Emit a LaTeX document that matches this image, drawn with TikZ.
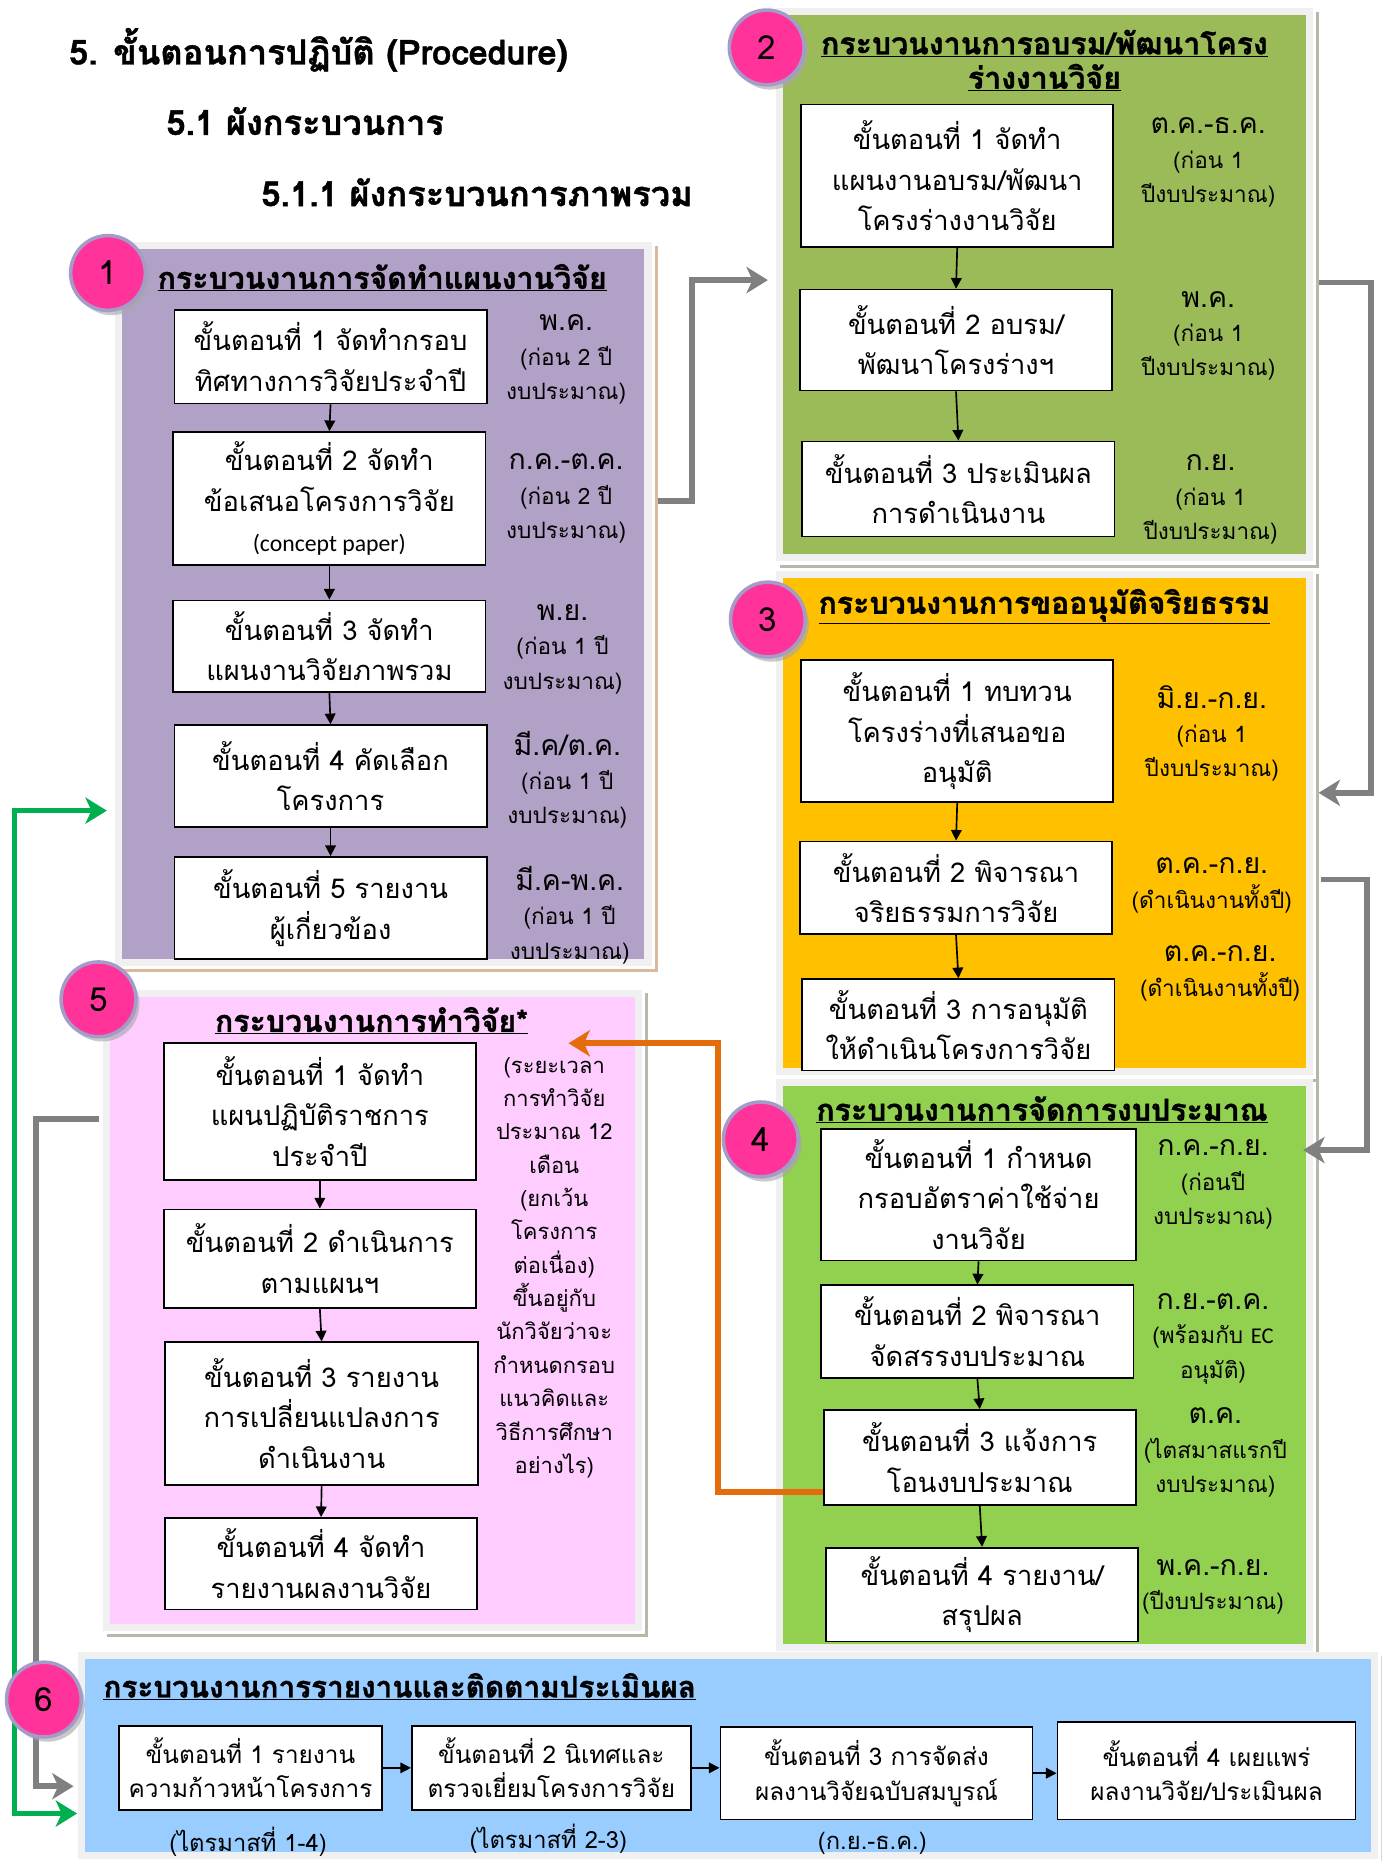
\documentclass[tikz,border=0pt]{standalone}
\usepackage{fontspec}
\setmainfont[Script=Thai]{Loma}
\newfontfamily\headf[Script=Thai,BoldFeatures={FakeBold=1.2}]{Loma}
\newfontfamily\latinf{Carlito}
\usetikzlibrary{arrows.meta,calc,shadows}

\definecolor{purp}{HTML}{B2A1C7}
\definecolor{grnA}{HTML}{9BBB59}
\definecolor{orng}{HTML}{FFC000}
\definecolor{grnB}{HTML}{92D050}
\definecolor{pinkp}{HTML}{FFCCFF}
\definecolor{bluep}{HTML}{99CCFF}
\definecolor{hotpink}{HTML}{FF3399}
\definecolor{lavb}{HTML}{A59BC9}
\definecolor{connG}{HTML}{808080}
\definecolor{connO}{HTML}{E46C0A}
\definecolor{connGr}{HTML}{00B050}
\definecolor{frameg}{HTML}{F0F0F0}
\definecolor{tanS}{HTML}{D9B89C}
\definecolor{grS}{HTML}{B4B9A8}

\newcommand\boxfont{\fontsize{23}{34}\selectfont}
\newcommand\datefont{\fontsize{19}{29}\selectfont}
\newcommand\monthf{\fontsize{24}{29}\selectfont}

\newcommand\stepbx[6]{\node[stepbox,minimum width={#4-#2},minimum height={#5-#3}] (#1) at ({(#2+#4)/2},{(#3+#5)/2}) {#6};}
\newcommand\panelnd[7]{\node[panelbox,fill=#6,minimum width={#4-#2+6},minimum height={#5-#3+6}] (#1) at ({(#2+#4)/2},{(#3+#5)/2}) {};
\draw[#7,line width=2.5pt] ([shift={(4,3)}]#1.north east) -- ([shift={(4,4)}]#1.south east) -- ([shift={(3,4)}]#1.south west);}

\begin{document}
\begin{tikzpicture}[x=1pt,y=-1pt,
  stepbox/.style={draw=black,line width=1.5pt,fill=white,align=center,inner sep=0pt,font=\boxfont},
  panelbox/.style={draw=frameg,line width=6pt,inner sep=0pt},
  badge/.style={circle,fill=hotpink,draw=lavb,line width=3pt,minimum size=63pt,inner sep=0pt,
     font=\fontsize{28}{30}\selectfont,drop shadow={shadow xshift=3pt,shadow yshift=-4pt,fill=gray!70,opacity=0.6}},
  ttl/.style={font=\headf\bfseries\fontsize{25.5}{29}\selectfont,inner sep=0pt,align=center},
  datel/.style={font=\datefont,align=center,inner sep=0pt},
  blk/.style={-{Triangle[length=9pt,width=9pt]},line width=1.4pt,black},
  grayc/.style={-{Stealth[length=18pt,width=22pt,inset=5pt]},line width=5pt,connG},
  orc/.style={-{Stealth[length=18pt,width=22pt,inset=5pt]},line width=5pt,connO},
  grc/.style={{Stealth[length=18pt,width=22pt,inset=5pt]}-{Stealth[length=18pt,width=22pt,inset=5pt]},line width=4pt,connGr},
  head/.style={font=\headf\bfseries\fontsize{29}{34}\selectfont,anchor=west,inner sep=0pt}]
\useasboundingbox[fill=white] (0,0) rectangle (1164,1568);

% headings
\node[head] (h1) at (58,42) {5. ขั้นตอนการปฏิบัติ (Procedure)};
\node[head] (h2) at (140,102) {5.1 ผังกระบวนการ};
\node[head] (h3) at (220,162) {5.1.1 ผังกระบวนการภาพรวม};

% panels
\panelnd{p1}{103}{210}{543}{808}{purp}{tanS}
\panelnd{p2}{660}{13}{1100}{467}{grnA}{grS}
\panelnd{p3}{660}{487}{1100}{900}{orng}{grS}
\panelnd{p4}{660}{915}{1100}{1385}{grnB}{grS}
\panelnd{p5}{93}{840}{535}{1368}{pinkp}{grS}
\panelnd{p6}{72}{1398}{1155}{1560}{bluep}{gray!30}

% panel 1
\node[ttl] (t1) at (322,234) {\underline{กระบวนงานการจัดทำแผนงานวิจัย}};
\stepbx{b11}{147}{261}{410}{340}{ขั้นตอนที่ 1 จัดทำกรอบ\\ทิศทางการวิจัยประจำปี}
\stepbx{b12}{146}{364}{409}{476}{ขั้นตอนที่ 2 จัดทำ\\ข้อเสนอโครงการวิจัย\\{\latinf\fontsize{20}{34}\selectfont (concept paper)}}
\stepbx{b13}{146}{506}{409}{583}{ขั้นตอนที่ 3 จัดทำ\\แผนงานวิจัยภาพรวม}
\stepbx{b14}{147}{611}{410}{697}{ขั้นตอนที่ 4 คัดเลือก\\โครงการ}
\stepbx{b15}{147}{722}{410}{808}{ขั้นตอนที่ 5 รายงาน\\ผู้เกี่ยวข้อง}
\draw[blk] (b11.south) -- (b12.north);
\draw[blk] (b12.south) -- (b13.north);
\draw[blk] (b13.south) -- (b14.north);
\draw[blk] (b14.south) -- (b15.north);
\node[datel] (d11) at (477,303) {{\monthf พ.ค.}\\(ก่อน 2 ปี\\งบประมาณ)};
\node[datel] (d12) at (477,420) {{\monthf ก.ค.-ต.ค.}\\(ก่อน 2 ปี\\งบประมาณ)};
\node[datel] (d13) at (474,547) {{\monthf พ.ย.}\\(ก่อน 1 ปี\\งบประมาณ)};
\node[datel] (d14) at (478,657) {{\monthf มี.ค/ต.ค.}\\(ก่อน 1 ปี\\งบประมาณ)};
\node[datel] (d15) at (480,771) {{\monthf มี.ค-พ.ค.}\\(ก่อน 1 ปี\\งบประมาณ)};

% panel 2
\node[ttl] (t2) at (880,51) {\underline{กระบวนงานการอบรม/พัฒนาโครง}\\\underline{ร่างงานวิจัย}};
\stepbx{b21}{675}{88}{938}{208}{ขั้นตอนที่ 1 จัดทำ\\แผนงานอบรม/พัฒนา\\โครงร่างงานวิจัย}
\stepbx{b22}{674}{244}{937}{329}{ขั้นตอนที่ 2 อบรม/\\พัฒนาโครงร่างฯ}
\stepbx{b23}{676}{372}{939}{452}{ขั้นตอนที่ 3 ประเมินผล\\การดำเนินงาน}
\draw[blk] (b21.south) -- (b22.north);
\draw[blk] (b22.south) -- (b23.north);
\node[datel] (d21) at (1018,137) {{\monthf ต.ค.-ธ.ค.}\\(ก่อน 1\\ปีงบประมาณ)};
\node[datel] (d22) at (1018,283) {{\monthf พ.ค.}\\(ก่อน 1\\ปีงบประมาณ)};
\node[datel] (d23) at (1020,421) {{\monthf ก.ย.}\\(ก่อน 1\\ปีงบประมาณ)};

% panel 3
\node[ttl] (t3) at (880,511) {\underline{กระบวนงานการขออนุมัติจริยธรรม}};
\stepbx{b31}{675}{556}{938}{676}{ขั้นตอนที่ 1 ทบทวน\\โครงร่างที่เสนอขอ\\อนุมัติ}
\stepbx{b32}{674}{709}{937}{787}{ขั้นตอนที่ 2 พิจารณา\\จริยธรรมการวิจัย}
\stepbx{b33}{676}{825}{939}{902}{ขั้นตอนที่ 3 การอนุมัติ\\ให้ดำเนินโครงการวิจัย}
\draw[blk] (b31.south) -- (b32.north);
\draw[blk] (b32.south) -- (b33.north);
\node[datel] (d31) at (1021,618) {{\monthf มิ.ย.-ก.ย.}\\(ก่อน 1\\ปีงบประมาณ)};
\node[datel] (d32) at (1021,746) {{\monthf ต.ค.-ก.ย.}\\(ดำเนินงานทั้งปี)};
\node[datel] (d33) at (1028,820) {{\monthf ต.ค.-ก.ย.}\\(ดำเนินงานทั้งปี)};

% panel 4
\node[ttl] (t4) at (878,935) {\underline{กระบวนงานการจัดการงบประมาณ}};
\stepbx{b41}{692}{951}{957}{1062}{ขั้นตอนที่ 1 กำหนด\\กรอบอัตราค่าใช้จ่าย\\งานวิจัย}
\stepbx{b42}{692}{1083}{955}{1161}{ขั้นตอนที่ 2 พิจารณา\\จัดสรรงบประมาณ}
\stepbx{b43}{694}{1188}{957}{1268}{ขั้นตอนที่ 3 แจ้งการ\\โอนงบประมาณ}
\stepbx{b44}{696}{1304}{959}{1383}{ขั้นตอนที่ 4 รายงาน/\\สรุปผล}
\draw[blk] (b41.south) -- (b42.north);
\draw[blk] (b42.south) -- (b43.north);
\draw[blk] (b43.south) -- (b44.north);
\node[datel] (d41) at (1022,998) {{\monthf ก.ค.-ก.ย.}\\(ก่อนปี\\งบประมาณ)};
\node[datel] (d42) at (1022,1128) {{\monthf ก.ย.-ต.ค.}\\(พร้อมกับ {\latinf EC}\\อนุมัติ)};
\node[datel] (d43) at (1024,1224) {{\monthf ต.ค.}\\(ไตสมาสแรกปี\\งบประมาณ)};
\node[datel] (d44) at (1022,1337) {{\monthf พ.ค.-ก.ย.}\\(ปีงบประมาณ)};

% panel 5
\node[ttl] (t5) at (313,860) {\underline{กระบวนงานการทำวิจัย*}};
\stepbx{b51}{138}{879}{401}{994}{ขั้นตอนที่ 1 จัดทำ\\แผนปฏิบัติราชการ\\ประจำปี}
\stepbx{b52}{138}{1019}{401}{1102}{ขั้นตอนที่ 2 ดำเนินการ\\ตามแผนฯ}
\stepbx{b53}{139}{1131}{403}{1251}{ขั้นตอนที่ 3 รายงาน\\การเปลี่ยนแปลงการ\\ดำเนินงาน}
\stepbx{b54}{139}{1279}{402}{1356}{ขั้นตอนที่ 4 จัดทำ\\รายงานผลงานวิจัย}
\draw[blk] (b51.south) -- (b52.north);
\draw[blk] (b52.south) -- (b53.north);
\draw[blk] (b53.south) -- (b54.north);
\node[datel,font=\fontsize{18.5}{28.1}\selectfont] (n5) at (467,1068) {(ระยะเวลา\\การทำวิจัย\\ประมาณ 12\\เดือน\\(ยกเว้น\\โครงการ\\ต่อเนื่อง)\\ขึ้นอยู่กับ\\นักวิจัยว่าจะ\\กำหนดกรอบ\\แนวคิดและ\\วิธีการศึกษา\\อย่างไร)};

% panel 6
\node[ttl,anchor=west,font=\headf\bfseries\fontsize{25}{29}\selectfont] (t6) at (87,1421) {\underline{กระบวนงานการรายงานและติดตามประเมินผล}};
\begin{scope}[stepbox/.append style={font=\fontsize{20.5}{29}\selectfont}]
\stepbx{b61}{100}{1454}{322}{1525}{ขั้นตอนที่ 1 รายงาน\\ความก้าวหน้าโครงการ}
\stepbx{b62}{347}{1454}{582}{1525}{ขั้นตอนที่ 2 นิเทศและ\\ตรวจเยี่ยมโครงการวิจัย}
\stepbx{b63}{607}{1455}{870}{1533}{ขั้นตอนที่ 3 การจัดส่ง\\ผลงานวิจัยฉบับสมบูรณ์}
\stepbx{b64}{891}{1451}{1142}{1533}{ขั้นตอนที่ 4 เผยแพร่\\ผลงานวิจัย/ประเมินผล}
\end{scope}
\draw[blk] (b61.east) -- (b62.west);
\draw[blk] (b62.east) -- (b63.west |- b62.east);
\draw[blk] (b63.east) -- (b64.west |- b63.east);
\node[datel,font=\fontsize{20}{24}\selectfont] (q1) at (209,1552) {(ไตรมาสที่ 1-4)};
\node[datel,font=\fontsize{20}{24}\selectfont] (q2) at (462,1549) {(ไตรมาสที่ 2-3)};
\node[datel,font=\fontsize{20}{24}\selectfont] (q3) at (735,1553) {(ก.ย.-ธ.ค.)};

% connectors between panels
\draw[grayc] ($(p1.east |- 0,422)+(5,0)$) -| (583,236) -- ($(p2.west |- 0,236)+(-7,0)$);
\draw[grayc] ($(p2.east |- 0,238)+(5,0)$) -- (1155,238) |- ($(p3.east |- 0,668)+(5,0)$);
\draw[grayc] ($(p3.east |- 0,741)+(7,0)$) -- (1152,741) |- ($(p4.east |- 0,969)+(-8,0)$);
\draw[orc] (b43.west |- 0,1257) -- (605,1257) |- ($(p5.east |- 0,879)+(-62,0)$);
\draw[grayc] ($(p5.west |- 0,943)+(-4,0)$) -- (30,943) |- ($(p6.west |- 0,1505)+(-4,0)$);
\draw[grc] ($(p1.west |- 0,683)+(-7,0)$) -- (12,683) -- (12,1528) -- ($(p6.west |- 0,1528)+(-1,0)$);

% badges
\node[badge] (c1) at (91,230) {1};
\node[badge] (c2) at (646,40) {2};
\node[badge] (c3) at (647,522) {3};
\node[badge] (c4) at (641,960) {4};
\node[badge] (c5) at (83,842) {5};
\node[badge] (c6) at (37,1432) {6};
\end{tikzpicture}
\end{document}
